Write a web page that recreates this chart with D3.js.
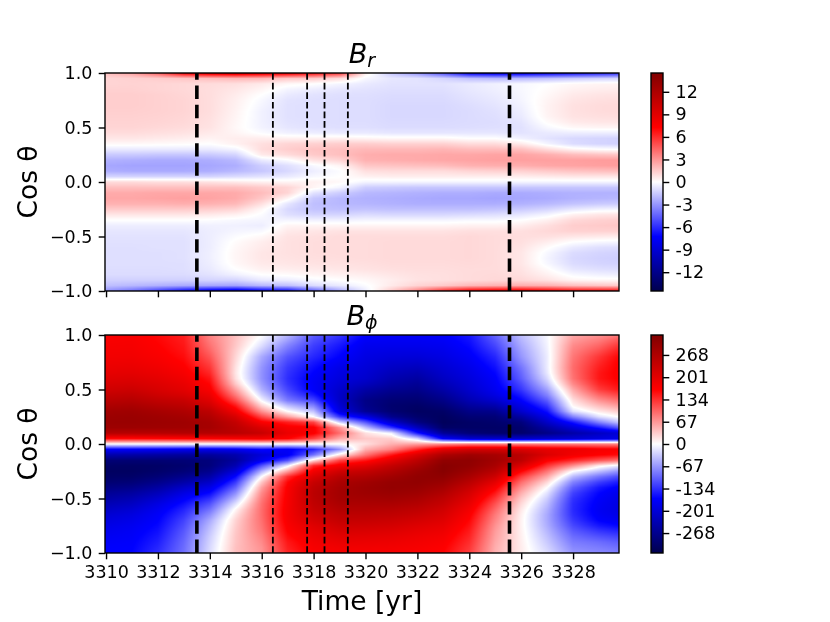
<!DOCTYPE html>
<html>
<head>
<meta charset="utf-8">
<script src="https://cdn.jsdelivr.net/npm/d3@7"></script>
<style>
  body { margin: 0; background: #fff; }
  #chart { position: relative; width: 830px; height: 622px; overflow: hidden; }
  #chart canvas, #chart svg { position: absolute; left: 0; top: 0; }
  #chart svg { z-index: 1; }
</style>
</head>
<body>
<div id="chart"></div>
<script>
// ---- data ----
// grid sample positions
const timeCenters = [3310, 3311, 3312, 3313, 3314, 3315, 3316, 3317, 3318, 3319, 3320,
  3321, 3322, 3323, 3324, 3325, 3326, 3327, 3328, 3329, 3330];
const cosCenters = [1.0, 0.95, 0.9, 0.85, 0.8, 0.75, 0.7, 0.65, 0.6, 0.55, 0.5, 0.45, 0.4, 0.35,
  0.3, 0.25, 0.2, 0.15, 0.1, 0.05, 0.0, -0.05, -0.1, -0.15, -0.2, -0.25, -0.3, -0.35, -0.4,
  -0.45, -0.5, -0.55, -0.6, -0.65, -0.7, -0.75, -0.8, -0.85, -0.9, -0.95, -1.0];

// B_r, one column per year, from cos = 1 down to cos = -1
const brByYear = [
  [1.8,1.2,1.2,1.3,1.4,1.4,1.4,1.35,1.3,1.25,1.2,1.0,0.7,0.2,-0.6,-1.5,-2.2,-2.5,-2.3,-1.2,1.0,1.8,2.4,2.5,2.2,1.5,0.7,0.0,-0.5,-0.7,-0.8,-0.85,-0.9,-0.9,-0.9,-0.9,-0.95,-1.0,-1.3,-1.8,-3.0],
  [2.6,1.3,1.25,1.3,1.4,1.4,1.4,1.35,1.3,1.25,1.2,1.0,0.7,0.2,-0.6,-1.5,-2.3,-2.6,-2.4,-1.2,1.0,1.8,2.4,2.5,2.2,1.5,0.7,0.0,-0.5,-0.7,-0.8,-0.85,-0.9,-0.9,-0.9,-0.9,-0.95,-1.0,-1.3,-2.0,-4.0],
  [4.5,1.4,1.2,1.2,1.3,1.3,1.3,1.3,1.25,1.2,1.1,0.9,0.6,0.15,-0.6,-1.6,-2.4,-2.6,-2.4,-1.2,0.9,1.8,2.5,2.6,2.2,1.5,0.7,0.0,-0.5,-0.7,-0.8,-0.85,-0.85,-0.9,-0.9,-0.9,-0.95,-1.0,-1.3,-2.2,-5.5],
  [7.5,1.6,1.1,1.1,1.15,1.2,1.2,1.2,1.15,1.1,1.0,0.8,0.5,0.1,-0.6,-1.6,-2.4,-2.6,-2.4,-1.2,0.9,1.8,2.5,2.7,2.3,1.5,0.7,0.0,-0.5,-0.7,-0.8,-0.85,-0.85,-0.85,-0.85,-0.9,-0.9,-1.0,-1.3,-2.4,-7.0],
  [8.5,1.8,1.0,0.95,0.95,0.95,0.95,0.95,0.9,0.85,0.8,0.6,0.35,0.0,-0.6,-1.5,-2.3,-2.5,-2.3,-1.2,0.8,1.8,2.5,2.6,2.2,1.4,0.6,-0.05,-0.4,-0.5,-0.5,-0.5,-0.5,-0.45,-0.45,-0.5,-0.6,-0.8,-1.2,-2.5,-8.0],
  [9.0,2.0,0.9,0.7,0.55,0.45,0.4,0.35,0.3,0.25,0.2,0.3,0.5,0.4,-0.3,-1.2,-2.0,-2.3,-2.0,-1.0,0.6,1.8,2.4,2.4,2.0,1.2,0.4,-0.2,-0.4,-0.3,-0.1,0.1,0.2,0.25,0.25,0.2,0.0,-0.4,-1.2,-2.6,-8.5],
  [8.5,2.0,0.6,0.3,0.0,-0.2,-0.3,-0.4,-0.4,-0.4,-0.35,-0.1,0.5,0.9,1.0,0.6,-0.6,-1.4,-1.6,-0.8,0.4,1.5,1.9,1.6,0.9,0.2,-0.1,-0.3,-0.5,-0.2,0.2,0.5,0.6,0.7,0.7,0.6,0.4,0.0,-0.6,-2.0,-7.5],
  [8.0,1.5,0.2,-0.3,-0.6,-0.8,-0.85,-0.85,-0.85,-0.8,-0.7,-0.4,0.4,1.2,1.4,1.0,-0.1,-0.9,-1.1,-0.6,0.3,1.2,1.2,0.3,-0.7,-1.1,-0.9,-0.3,0.3,0.6,0.8,0.85,0.85,0.85,0.8,0.7,0.5,0.1,-0.5,-1.8,-7.0],
  [7.0,1.5,0.0,-0.5,-0.8,-0.9,-0.9,-0.9,-0.9,-0.9,-0.85,-0.5,0.4,1.3,1.7,1.5,0.8,-0.2,-0.5,-0.2,0.4,0.3,-0.8,-1.6,-1.8,-1.7,-1.2,-0.4,0.3,0.7,0.9,0.95,0.95,0.95,0.9,0.8,0.6,0.3,-0.2,-1.0,-4.5],
  [5.8,1.0,-0.3,-0.7,-0.9,-0.95,-0.95,-0.95,-0.95,-0.95,-0.9,-0.6,0.4,1.4,1.8,1.8,1.2,0.3,-0.1,0.0,0.2,-0.3,-1.4,-2.0,-2.0,-1.8,-1.2,-0.4,0.3,0.8,1.0,1.0,1.0,1.0,0.95,0.85,0.7,0.4,0.0,-0.6,-2.5],
  [0.5,-0.2,-0.6,-0.8,-0.9,-0.95,-0.95,-0.95,-0.95,-0.95,-0.9,-0.6,0.3,1.4,2.0,2.3,2.2,1.6,0.9,0.4,-0.3,-1.4,-2.0,-2.2,-2.1,-1.7,-1.0,-0.3,0.3,0.8,1.0,1.0,1.0,1.0,1.0,0.9,0.8,0.5,0.2,-0.1,-0.5],
  [-1.6,-0.7,-0.8,-0.9,-1.0,-1.05,-1.1,-1.1,-1.1,-1.05,-1.0,-0.7,0.2,1.3,2.0,2.4,2.3,1.7,1.0,0.5,-0.3,-1.5,-2.1,-2.3,-2.2,-1.8,-1.1,-0.3,0.3,0.8,1.0,1.05,1.05,1.05,1.05,1.0,0.9,0.7,0.5,0.6,1.5],
  [-3.0,-0.8,-0.8,-0.9,-1.0,-1.05,-1.1,-1.1,-1.1,-1.05,-1.0,-0.7,0.2,1.3,2.0,2.4,2.4,1.8,1.0,0.5,-0.3,-1.6,-2.2,-2.4,-2.3,-1.8,-1.1,-0.3,0.3,0.8,1.0,1.05,1.05,1.05,1.05,1.0,0.95,0.85,0.8,1.2,3.5],
  [-5.0,-1.2,-0.8,-0.9,-1.0,-1.05,-1.1,-1.1,-1.1,-1.05,-1.0,-0.7,0.2,1.3,2.1,2.5,2.5,1.9,1.0,0.5,-0.3,-1.6,-2.3,-2.5,-2.3,-1.8,-1.1,-0.3,0.3,0.8,1.0,1.05,1.05,1.05,1.05,1.0,0.95,0.9,0.9,1.5,6.0],
  [-7.5,-1.8,-0.6,-0.65,-0.75,-0.85,-0.95,-1.0,-1.0,-1.0,-0.95,-0.7,0.0,1.0,1.9,2.5,2.6,2.2,1.2,0.5,-0.3,-1.6,-2.3,-2.5,-2.3,-1.8,-1.0,-0.2,0.4,0.9,1.1,1.1,1.1,1.1,1.1,1.05,1.0,1.0,1.0,2.0,7.5],
  [-8.0,-2.0,-0.4,-0.45,-0.55,-0.65,-0.75,-0.85,-0.9,-0.95,-0.9,-0.7,0.0,1.0,1.9,2.6,2.7,2.3,1.3,0.5,-0.3,-1.6,-2.4,-2.6,-2.3,-1.7,-0.9,-0.2,0.4,0.9,1.0,1.0,1.0,1.0,1.0,1.0,1.0,1.05,1.1,2.2,8.0],
  [-8.0,-2.0,-0.2,-0.2,-0.25,-0.3,-0.4,-0.5,-0.6,-0.75,-0.85,-0.8,-0.4,0.6,1.8,2.6,2.7,2.3,1.3,0.5,-0.3,-1.6,-2.4,-2.5,-2.2,-1.5,-0.7,0.0,0.5,0.9,0.95,0.9,0.8,0.7,0.7,0.7,0.8,0.9,1.1,2.3,8.0],
  [-7.5,-1.8,0.0,0.1,0.2,0.3,0.35,0.35,0.3,0.1,-0.2,-0.6,-0.8,-0.3,1.0,2.3,2.7,2.5,1.5,0.6,-0.3,-1.6,-2.3,-2.4,-2.0,-1.2,-0.3,0.4,0.9,1.1,0.9,0.5,0.1,-0.2,-0.3,-0.2,0.1,0.4,0.8,2.2,7.5],
  [-7.0,-1.5,0.2,0.4,0.6,0.75,0.85,0.85,0.8,0.6,0.2,-0.5,-1.1,-1.0,0.3,1.9,2.7,2.6,1.7,0.7,-0.3,-1.6,-2.2,-2.2,-1.7,-0.7,0.4,1.1,1.4,1.3,0.7,0.0,-0.6,-1.0,-1.1,-1.0,-0.7,-0.2,0.3,1.8,7.0],
  [-6.5,-1.3,0.3,0.5,0.75,0.9,1.0,1.0,0.9,0.7,0.3,-0.5,-1.2,-1.2,0.0,1.7,2.8,2.7,1.8,0.7,-0.3,-1.6,-2.2,-2.1,-1.5,-0.4,0.7,1.3,1.5,1.3,0.6,-0.2,-0.9,-1.2,-1.3,-1.2,-0.9,-0.4,0.2,1.6,7.0],
  [-6.0,-1.2,0.35,0.55,0.8,0.95,1.05,1.05,0.95,0.75,0.3,-0.5,-1.3,-1.3,-0.1,1.6,2.8,2.8,1.9,0.7,-0.3,-1.6,-2.2,-2.0,-1.4,-0.3,0.8,1.4,1.6,1.3,0.5,-0.3,-1.0,-1.3,-1.4,-1.3,-1.0,-0.5,0.2,1.5,7.0]
];

// B_phi, one column per year, from cos = 1 down to cos = -1
const bphiByYear = [
  [170,172,175,177,180,185,190,197,205,215,225,240,255,270,285,292,295,290,260,160,0,-170,-240,-290,-305,-310,-305,-295,-280,-262,-248,-232,-218,-205,-195,-187,-180,-175,-170,-167,-165],
  [172,174,176,178,181,186,192,199,208,218,230,245,260,275,288,294,296,290,258,160,0,-172,-245,-292,-307,-310,-303,-290,-272,-252,-235,-220,-205,-193,-185,-178,-173,-170,-167,-165,-163],
  [160,162,165,168,172,177,183,190,198,207,215,228,245,262,278,288,292,288,258,162,0,-175,-250,-292,-305,-302,-290,-272,-250,-228,-208,-190,-178,-170,-165,-160,-155,-150,-145,-140,-135],
  [145,147,150,153,157,162,168,175,183,192,200,215,235,252,268,280,288,285,262,165,0,-180,-255,-290,-298,-290,-270,-245,-215,-190,-170,-155,-142,-132,-122,-115,-108,-103,-98,-95,-92],
  [80,85,92,100,110,120,130,140,152,162,172,188,205,225,250,265,278,280,262,170,0,-185,-255,-285,-285,-270,-245,-215,-185,-160,-135,-112,-92,-72,-55,-45,-38,-32,-28,-25,-22],
  [40,38,35,30,26,22,18,16,20,35,60,85,115,150,180,215,240,252,255,175,0,-180,-240,-255,-235,-200,-160,-128,-100,-72,-45,-18,5,18,28,32,35,37,38,40,40],
  [0,-10,-22,-38,-55,-62,-68,-70,-70,-62,-50,-30,-5,30,70,120,170,210,235,180,0,-160,-200,-180,-110,-50,0,35,60,75,85,92,95,95,93,90,86,80,75,70,68],
  [-45,-62,-80,-95,-110,-120,-128,-132,-135,-130,-120,-105,-85,-40,0,60,145,175,190,165,0,-170,-175,-115,-10,60,135,160,170,172,174,175,177,177,175,170,165,158,150,145,140],
  [-105,-115,-125,-132,-140,-150,-158,-165,-170,-172,-170,-150,-120,-80,-40,0,120,170,170,120,0,-140,-90,20,140,180,210,235,248,252,250,245,238,228,218,205,195,188,180,175,170],
  [-130,-140,-150,-158,-165,-175,-185,-190,-195,-202,-210,-215,-215,-205,-190,-130,-30,70,95,55,0,-70,15,120,180,225,255,272,280,282,280,272,262,250,240,228,215,203,192,183,176],
  [-165,-172,-180,-185,-190,-195,-200,-205,-210,-225,-245,-260,-275,-272,-262,-190,-110,-40,20,35,20,50,90,150,200,240,265,285,292,290,282,272,262,250,238,225,212,200,190,182,175],
  [-168,-175,-182,-190,-198,-208,-218,-228,-238,-250,-265,-280,-292,-298,-295,-270,-210,-130,-10,30,50,80,150,200,240,265,285,300,302,295,285,272,258,246,232,220,207,196,187,180,175],
  [-170,-175,-182,-190,-200,-212,-225,-238,-250,-262,-272,-285,-295,-305,-310,-300,-280,-225,-150,-30,60,140,210,250,275,295,305,305,298,288,275,262,248,234,220,207,196,187,180,175,170],
  [-168,-172,-178,-184,-190,-198,-205,-212,-220,-232,-245,-260,-275,-290,-305,-312,-315,-305,-260,-170,70,200,270,305,318,318,308,295,280,265,250,238,225,215,205,195,186,178,172,167,163],
  [-150,-155,-160,-166,-172,-178,-185,-190,-196,-203,-210,-222,-235,-255,-275,-292,-305,-305,-290,-210,80,220,288,308,305,292,275,255,235,218,205,192,180,170,162,155,148,142,136,130,125],
  [-100,-110,-120,-130,-140,-148,-155,-162,-168,-172,-178,-190,-210,-240,-270,-290,-300,-305,-300,-215,80,220,278,285,275,255,228,198,172,150,130,112,98,86,78,70,64,60,56,52,50],
  [-40,-48,-55,-62,-68,-78,-90,-98,-105,-118,-130,-148,-165,-188,-210,-250,-285,-300,-300,-215,80,210,255,250,210,165,125,95,72,52,36,24,15,10,8,8,9,10,11,12,12],
  [-5,-6,-8,-10,-12,-12,-12,-15,-25,-40,-60,-80,-105,-130,-155,-185,-215,-250,-275,-210,80,195,210,170,130,90,55,25,0,-18,-32,-42,-50,-55,-55,-52,-46,-40,-34,-28,-22],
  [55,65,75,82,88,92,95,93,90,75,55,38,20,5,-20,-80,-150,-200,-245,-205,80,188,180,140,70,0,-45,-80,-105,-122,-132,-137,-138,-135,-128,-118,-106,-95,-85,-76,-68],
  [68,85,100,115,130,138,145,150,150,140,125,98,70,42,15,-20,-80,-150,-220,-195,80,175,165,110,10,-40,-90,-125,-150,-162,-168,-172,-175,-172,-165,-150,-130,-112,-95,-85,-75],
  [90,118,140,158,170,175,175,175,172,165,155,128,100,70,38,8,-25,-95,-195,-185,80,172,155,85,-20,-80,-125,-155,-175,-188,-192,-195,-195,-190,-180,-165,-145,-125,-108,-95,-85]
];

const brLimit = 14.5;
const bphiLimit = 328;
const brTicks = [-12, -9, -6, -3, 0, 3, 6, 9, 12];
const bphiTicks = [-268, -201, -134, -67, 0, 67, 134, 201, 268];
const timeTicks = [3310, 3312, 3314, 3316, 3318, 3320, 3322, 3324, 3326, 3328];
const cosTicks = [-1.0, -0.5, 0.0, 0.5, 1.0];
const majorEvents = [3313.5, 3325.55];
const minorEvents = [3316.43, 3317.75, 3318.42, 3319.32];

// ---- layout ----
const width = 830, height = 622;
const plotLeft = 105, plotRight = 619;
const panelH = 218;
const panels = [
  { top: 73, grid: brByYear, vmax: brLimit, ticks: brTicks, sub: "r", xLabels: false },
  { top: 335, grid: bphiByYear, vmax: bphiLimit, ticks: bphiTicks, sub: "\u03d5", xLabels: true }
];
const cbarLeft = 651, cbarW = 12;
const tickLen = 6.3, tickPad = 6.3;
const tickFont = 17.5, labelFont = 26.5;
const seismic = ["#00004d", "#0000ff", "#ffffff", "#ff0000", "#800000"];

const chart = d3.select("#chart");
const dpr = window.devicePixelRatio || 1;

const x = d3.scaleLinear().domain([3309.96, 3329.77]).range([plotLeft, plotRight]);

// fractional grid index for a time / cos value
const timeIndex = d3.scaleLinear()
  .domain([timeCenters[0], timeCenters[timeCenters.length - 1]])
  .range([0, timeCenters.length - 1]).clamp(true);
const cosIndex = d3.scaleLinear()
  .domain([cosCenters[0], cosCenters[cosCenters.length - 1]])
  .range([0, cosCenters.length - 1]).clamp(true);

function sampleGrid(grid, t, c) {
  const fi = timeIndex(t), fj = cosIndex(c);
  const i0 = Math.min(Math.floor(fi), grid.length - 2);
  const j0 = Math.min(Math.floor(fj), grid[0].length - 2);
  const u = fi - i0, v = fj - j0;
  return (1 - u) * (1 - v) * grid[i0][j0] + u * (1 - v) * grid[i0 + 1][j0]
       + (1 - u) * v * grid[i0][j0 + 1] + u * v * grid[i0 + 1][j0 + 1];
}

function colorScale(vmax) {
  return d3.scaleLinear()
    .domain([-vmax, -vmax / 2, 0, vmax / 2, vmax])
    .range(seismic)
    .clamp(true);
}

function paintField(grid, vmax, y) {
  const top = y.range()[1];
  const w = plotRight - plotLeft, h = panelH;
  const cw = Math.round(w * dpr), ch = Math.round(h * dpr);
  const canvas = chart.append("canvas")
    .attr("width", cw).attr("height", ch)
    .style("left", plotLeft + "px").style("top", top + "px")
    .style("width", w + "px").style("height", h + "px");
  const ctx = canvas.node().getContext("2d");
  const img = ctx.createImageData(cw, ch);
  const color = colorScale(vmax);
  const steps = 1024;
  const lut = d3.range(steps + 1).map(k => d3.rgb(color(-vmax + 2 * vmax * k / steps)));
  const ts = d3.range(cw).map(px => x.invert(plotLeft + (px + 0.5) / dpr));
  for (let py = 0; py < ch; py++) {
    const c = y.invert(top + (py + 0.5) / dpr);
    for (let px = 0; px < cw; px++) {
      const val = sampleGrid(grid, ts[px], c);
      let k = Math.round((val + vmax) / (2 * vmax) * steps);
      k = Math.max(0, Math.min(steps, k));
      const col = lut[k], o = (py * cw + px) * 4;
      img.data[o] = col.r; img.data[o + 1] = col.g; img.data[o + 2] = col.b; img.data[o + 3] = 255;
    }
  }
  ctx.putImageData(img, 0, 0);
}

panels.forEach(p => {
  p.y = d3.scaleLinear().domain([-1, 1]).range([p.top + panelH, p.top]);
  paintField(p.grid, p.vmax, p.y);
});

const svg = chart.append("svg")
  .attr("width", width)
  .attr("height", height)
  .attr("viewBox", `0 0 ${width} ${height}`)
  .style("font-family", "'DejaVu Sans', sans-serif");

const defs = svg.append("defs");

function styleAxis(g) {
  g.select(".domain").remove();
  g.selectAll(".tick line").attr("stroke", "#000").attr("stroke-width", 1.4);
  g.selectAll(".tick text").attr("fill", "#000");
  g.attr("font-size", tickFont).attr("font-family", "'DejaVu Sans', sans-serif");
}

panels.forEach((p, idx) => {
  const y = p.y;
  const bottom = p.top + panelH;

  // event markers
  const gEvents = svg.append("g").attr("class", "events");
  gEvents.selectAll("line.major")
    .data(majorEvents)
    .join("line")
    .attr("class", "major")
    .attr("x1", d => x(d)).attr("x2", d => x(d))
    .attr("y1", bottom).attr("y2", p.top)
    .attr("stroke", "#000")
    .attr("stroke-width", 3.6)
    .attr("stroke-dasharray", "13.4 5.8");
  gEvents.selectAll("line.minor")
    .data(minorEvents)
    .join("line")
    .attr("class", "minor")
    .attr("x1", d => x(d)).attr("x2", d => x(d))
    .attr("y1", bottom).attr("y2", p.top)
    .attr("stroke", "#000")
    .attr("stroke-width", 1.8)
    .attr("stroke-dasharray", "6.7 2.9");

  // axes
  svg.append("g")
    .attr("transform", `translate(${plotLeft},0)`)
    .call(d3.axisLeft(y).tickValues(cosTicks).tickFormat(d3.format(".1f"))
      .tickSize(tickLen).tickPadding(tickPad).tickSizeOuter(0))
    .call(styleAxis);
  svg.append("g")
    .attr("transform", `translate(0,${bottom})`)
    .call(d3.axisBottom(x).tickValues(timeTicks)
      .tickFormat(p.xLabels ? d3.format("d") : () => "")
      .tickSize(tickLen).tickPadding(tickPad).tickSizeOuter(0))
    .call(styleAxis);

  // frame
  svg.append("rect")
    .attr("x", plotLeft).attr("y", p.top)
    .attr("width", plotRight - plotLeft).attr("height", panelH)
    .attr("fill", "none").attr("stroke", "#000").attr("stroke-width", 1.4);

  // title
  const title = svg.append("text")
    .attr("x", (plotLeft + plotRight) / 2)
    .attr("y", p.top - 10)
    .attr("text-anchor", "middle")
    .attr("font-size", 27);
  title.append("tspan").attr("font-style", "italic").text("B");
  title.append("tspan").attr("font-style", "italic").attr("font-size", 19).attr("dy", 4).text(p.sub);

  // y label
  svg.append("text")
    .attr("transform", `translate(37,${p.top + panelH / 2}) rotate(-90)`)
    .attr("text-anchor", "middle")
    .attr("font-size", labelFont)
    .text("Cos \u03b8");

  // colorbar
  const gradId = "cbar" + idx;
  const grad = defs.append("linearGradient")
    .attr("id", gradId)
    .attr("x1", 0).attr("y1", 1).attr("x2", 0).attr("y2", 0);
  grad.selectAll("stop")
    .data(seismic)
    .join("stop")
    .attr("offset", (d, i) => i / (seismic.length - 1))
    .attr("stop-color", d => d);
  const cbY = d3.scaleLinear().domain([-p.vmax, p.vmax]).range([bottom, p.top]);
  svg.append("rect")
    .attr("x", cbarLeft).attr("y", p.top)
    .attr("width", cbarW).attr("height", panelH)
    .attr("fill", `url(#${gradId})`)
    .attr("stroke", "#000").attr("stroke-width", 1.4);
  svg.append("g")
    .attr("transform", `translate(${cbarLeft + cbarW},0)`)
    .call(d3.axisRight(cbY).tickValues(p.ticks).tickFormat(d => String(d))
      .tickSize(tickLen).tickPadding(tickPad).tickSizeOuter(0))
    .call(styleAxis);
});

// x label
svg.append("text")
  .attr("x", (plotLeft + plotRight) / 2)
  .attr("y", 610)
  .attr("text-anchor", "middle")
  .attr("font-size", labelFont)
  .text("Time [yr]");
</script>
</body>
</html>
